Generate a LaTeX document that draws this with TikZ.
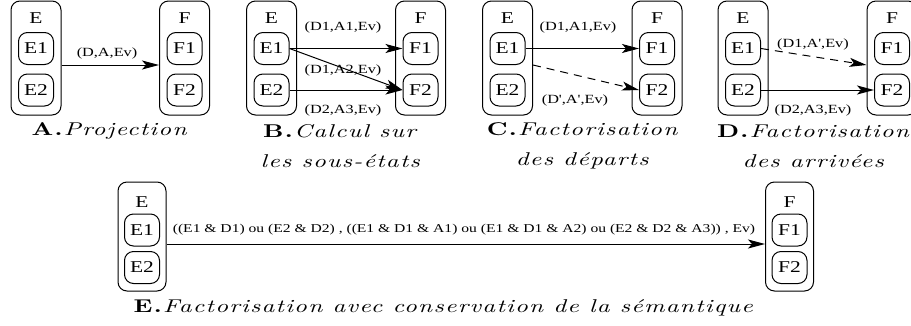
\documentclass[tikz,border=0pt]{standalone}
\usepackage{fontspec}
\usetikzlibrary{arrows.meta}
% Times-like labels, slightly widened
\newfontfamily\lblfont[FakeStretch=1.3]{Liberation Serif}
% Latin Modern for the captions, widened and spaced out
\newfontfamily\capfont{lmroman10-regular.otf}[BoldFont=lmroman10-bold.otf,ItalicFont=lmroman10-italic.otf,FakeStretch=1.35,LetterSpace=7]
\begin{document}
\begin{tikzpicture}[x=1pt,y=-1pt,
  state/.style={draw, line width=1pt, rounded corners=9pt, minimum width=50pt, minimum height=114pt, inner sep=0pt},
  sub/.style={draw, line width=1pt, rounded corners=9pt, minimum width=35pt, minimum height=32pt, inner sep=0pt, font=\lblfont\fontsize{16.5}{16.5}\selectfont},
  title/.style={font=\lblfont\fontsize{16.5}{16.5}\selectfont, inner sep=0pt},
  trans/.style={line width=1pt, -{Stealth[length=17pt,width=9pt,inset=4pt]}},
  fact/.style={trans, dash pattern=on 8pt off 6pt},
  guard/.style={font=\lblfont\fontsize{12.5}{12.5}\selectfont, inner sep=0pt},
  caption/.style={font=\capfont\fontsize{18.5}{30}\selectfont, align=center, inner sep=0pt}]
\useasboundingbox (0,0) rectangle (911,325);

% ---------- A : projection ----------
\node[state] (Ae) at (36,58) {};
\node[title] (AeT) at (36,18) {E};
\node[sub] (Ae1) at (36,48.5) {E1};
\node[sub] (Ae2) at (36,90) {E2};
\node[state] (Af) at (184.5,58) {};
\node[title] (AfT) at (184.5,18) {F};
\node[sub] (Af1) at (184.5,48.5) {F1};
\node[sub] (Af2) at (184.5,90) {F2};
\draw[trans] ([yshift=-7pt]Ae.east) -- ([yshift=-7pt]Af.west);
\node[guard] (Ag) at (107,53) {(D,A,Ev)};
\node[caption] (Ac) at (110,131) {\textbf{A.}\textit{Projection}};

% ---------- B : computation on sub-states ----------
\node[state] (Be) at (271.5,58) {};
\node[title] (BeT) at (271.5,18) {E};
\node[sub] (Be1) at (271.5,48.5) {E1};
\node[sub] (Be2) at (271.5,90) {E2};
\node[state] (Bf) at (420.5,58) {};
\node[title] (BfT) at (420.5,18) {F};
\node[sub] (Bf1) at (420.5,48.5) {F1};
\node[sub] (Bf2) at (420.5,90) {F2};
\draw[trans] (Be1.east) -- (Bf1.west);
\draw[trans] (Be1.east) -- (Bf2.west);
\draw[trans] (Be2.east) -- (Bf2.west);
\node[guard] (Bg1) at (343,27) {(D1,A1,Ev)};
\node[guard] (Bg2) at (343,70) {(D1,A2,Ev)};
\node[guard] (Bg3) at (343,110) {(D2,A3,Ev)};
\node[caption] (Bc) at (341,146) {\textbf{B.}\textit{Calcul sur}\\\textit{les sous-états}};

% ---------- C : factorised departures ----------
\node[state] (Ce) at (507.5,58) {};
\node[title] (CeT) at (507.5,18) {E};
\node[sub] (Ce1) at (507.5,48.5) {E1};
\node[sub] (Ce2) at (507.5,90) {E2};
\node[state] (Cf) at (657,58) {};
\node[title] (CfT) at (657,18) {F};
\node[sub] (Cf1) at (657,48.5) {F1};
\node[sub] (Cf2) at (657,90) {F2};
\draw[trans] (Ce1.east) -- (Cf1.west);
\draw[fact] ([yshift=-7pt]Ce.east) -- (Cf2.west);
\node[guard] (Cg1) at (578,27) {(D1,A1,Ev)};
\node[guard] (Cg2) at (575,100) {(D',A',Ev)};
\node[caption] (Cc) at (583,146) {\textbf{C.}\textit{Factorisation}\\\textit{des départs}};

% ---------- D : factorised arrivals ----------
\node[state] (De) at (743,58) {};
\node[title] (DeT) at (743,18) {E};
\node[sub] (De1) at (743,48.5) {E1};
\node[sub] (De2) at (743,90) {E2};
\node[state] (Df) at (892,58) {};
\node[title] (DfT) at (892,18) {F};
\node[sub] (Df1) at (892,48.5) {F1};
\node[sub] (Df2) at (892,90) {F2};
\draw[fact] (De1.east) -- ([yshift=-7pt]Df.west);
\draw[trans] (De2.east) -- (Df2.west);
\node[guard] (Dg1) at (813,44) {(D1,A',Ev)};
\node[guard] (Dg2) at (813,110) {(D2,A3,Ev)};
\node[caption] (Dc) at (814,146) {\textbf{D.}\textit{Factorisation}\\\textit{des arrivées}};

% ---------- E : factorisation keeping the semantics ----------
\node[state, minimum width=48pt, minimum height=109pt] (Ee) at (142,236.5) {};
\node[title] (EeT) at (142,202) {E};
\node[sub] (Ee1) at (142,230) {E1};
\node[sub] (Ee2) at (142,267.5) {E2};
\node[state, minimum width=48pt, minimum height=109pt] (Ef) at (789.5,236.5) {};
\node[title] (EfT) at (789.5,202) {F};
\node[sub] (Ef1) at (789.5,230) {F1};
\node[sub] (Ef2) at (789.5,267.5) {F2};
\draw[trans] ([yshift=-7.5pt]Ee.east) -- ([yshift=-7.5pt]Ef.west);
\node[guard, font=\lblfont\fontsize{12}{12}\selectfont] (Eg) at (464,230) {((E1 \& D1) ou (E2 \& D2) , ((E1 \& D1 \& A1) ou (E1 \& D1 \& A2) ou (E2 \& D2 \& A3)) , Ev)};
\node[caption] (Ec) at (444,308) {\textbf{E.}\textit{Factorisation avec conservation de la sémantique}};
\end{tikzpicture}
\end{document}
